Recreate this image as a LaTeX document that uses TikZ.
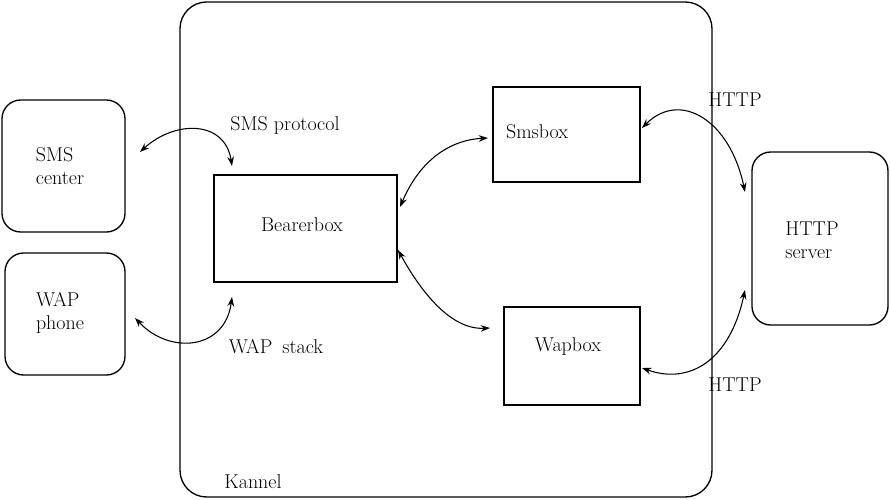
\documentclass[tikz,border=0pt]{standalone}
\usetikzlibrary{arrows.meta}
\begin{document}
\begin{tikzpicture}[x=0.75pt,y=-0.75pt,
  box/.style={draw,line width=1pt},
  rbox/.style={draw,line width=1pt,rounded corners=14pt},
  lbl/.style={font=\fontsize{15}{17}\selectfont,align=left},
  conn/.style={line width=0.8pt,{Stealth[length=7pt,width=5pt]}-{Stealth[length=7pt,width=5pt]}}]
\useasboundingbox (0,0) rectangle (890,500);
\draw[rbox,rounded corners=20pt] (180,2) rectangle (712,497);
\node[lbl] (kannel) at (253,482) {Kannel};
\draw[rbox] (2,100) rectangle (125,232);
\node[lbl] (smsct) at (60,166) {SMS\\center};
\draw[rbox] (5,253) rectangle (125,375);
\node[lbl] (wapt) at (60,313) {WAP\\phone};
\draw[box] (214,175) rectangle (397,282);
\node[lbl] (bb) at (302,225) {Bearerbox};
\draw[box] (493,87) rectangle (640,182);
\node[lbl] (sb) at (537,132) {Smsbox};
\draw[box] (504,307) rectangle (640,405);
\node[lbl] (wb) at (568,347) {Wapbox};
\draw[rbox] (752,152) rectangle (888,325);
\node[lbl] (hs) at (812,240) {HTTP\\server};
\node[lbl] (smsp) at (285,125) {SMS protocol};
\node[lbl] (waps) at (276,347) {WAP\enspace stack};
\node[lbl] (h1) at (735,100) {HTTP};
\node[lbl] (h2) at (735,385) {HTTP};
\coordinate (a1) at (140,152); \coordinate (a2) at (232,166);
\coordinate (b1) at (135,318); \coordinate (b2) at (232,297);
\coordinate (c1) at (400,207); \coordinate (c2) at (488,138);
\coordinate (d1) at (398,250); \coordinate (d2) at (490,328);
\coordinate (e1) at (642,128); \coordinate (e2) at (745,192);
\coordinate (f1) at (642,368); \coordinate (f2) at (745,290);
\draw[conn] (a1) .. controls (175,120) and (225,120) .. (a2);
\draw[conn] (b1) .. controls (170,355) and (225,350) .. (b2);
\draw[conn] (c1) .. controls (420,160) and (450,140) .. (c2);
\draw[conn] (d1) .. controls (420,290) and (450,330) .. (d2);
\draw[conn] (e1) .. controls (680,90) and (730,120) .. (e2);
\draw[conn] (f1) .. controls (690,385) and (730,360) .. (f2);
\end{tikzpicture}
\end{document}
